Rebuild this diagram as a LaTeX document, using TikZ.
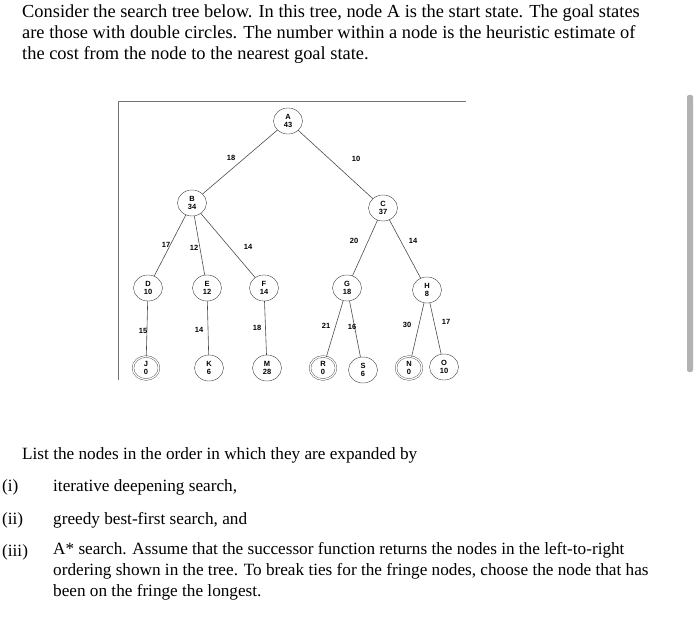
\documentclass[tikz,border=0pt]{standalone}
\usepackage{fontspec}
\usetikzlibrary{shapes.geometric}
\setmainfont{Liberation Serif}
\newfontfamily\tf{Liberation Sans}
\begin{document}
\begin{tikzpicture}[x=1pt,y=-1pt,
  st/.style={draw=black!75,ellipse,minimum width=29pt,minimum height=26pt,inner sep=0pt,align=center,font=\tf\bfseries\fontsize{7.5}{8.5}\selectfont},
  gl/.style={st,double,double distance=1.3pt,minimum width=26pt,minimum height=23pt},
  el/.style={font=\tf\bfseries\fontsize{7.5}{8}\selectfont,inner sep=0pt},
  tx/.style={anchor=west,inner sep=0pt,font=\fontsize{17.2}{21}\selectfont,align=left},
  ed/.style={draw=black!70,line width=0.6pt}]
\useasboundingbox (0,0) rectangle (700,639);
\node[tx,anchor=north west,font=\fontsize{18.4}{21}\selectfont] (p) at (22,5) {Consider the search tree below. In this tree, node A is the start state. The goal states\\are those with double circles. The number within a node is the heuristic estimate of\\the cost from the node to the nearest goal state.};
\draw[black!55,line width=0.8pt] (118,380) -- (118,101) -- (466,101);
\fill[black!30,rounded corners=2pt] (687,95) rectangle (693,372);
\node[st] (A) at (288,121) {A\\43};
\node[st] (B) at (192,203) {B\\34};
\node[st] (C) at (383,208) {C\\37};
\node[st] (D) at (148,288) {D\\10};
\node[st] (E) at (207,288) {E\\12};
\node[st] (F) at (264,288) {F\\14};
\node[st] (G) at (347,288) {G\\18};
\node[st] (H) at (427,290) {H\\8};
\node[gl] (J) at (146,368) {J\\0};
\node[st] (K) at (209,368) {K\\6};
\node[st] (M) at (267,368) {M\\28};
\node[gl] (R) at (323,368) {R\\0};
\node[st] (S) at (363,370) {S\\6};
\node[gl] (N) at (409,368) {N\\0};
\node[st] (O) at (444,367) {O\\10};
\foreach \a/\b in {A/B,A/C,B/D,B/E,B/F,C/G,C/H,D/J,E/K,F/M,G/R,G/S,H/N,H/O}
  \draw[ed] (\a) -- (\b);
\node[el] (l1) at (231,158) {18};
\node[el] (l2) at (356,159) {10};
\node[el] (l3) at (166,245) {17};
\node[el] (l4) at (194,248) {12};
\node[el] (l5) at (248,247) {14};
\node[el] (l6) at (354,241) {20};
\node[el] (l7) at (413,241) {14};
\node[el] (l8) at (143,331) {15};
\node[el] (l9) at (199,330) {14};
\node[el] (l10) at (257,328) {18};
\node[el] (l11) at (326,326) {21};
\node[el] (l12) at (352,327) {16};
\node[el] (l13) at (407,325) {30};
\node[el] (l14) at (446,322) {17};
\node[tx] (q) at (22,455) {List the nodes in the order in which they are expanded by};
\node[tx] (i1) at (2,487) {(i)};
\node[tx] (t1) at (53,487) {iterative deepening search,};
\node[tx] (i2) at (2,520) {(ii)};
\node[tx] (t2) at (53,520) {greedy best-first search, and};
\node[tx] (i3) at (2,552) {(iii)};
\node[tx,anchor=north west] (t3) at (53,542) {A* search. Assume that the successor function returns the nodes in the left-to-right\\ordering shown in the tree. To break ties for the fringe nodes, choose the node that has\\been on the fringe the longest.};
\end{tikzpicture}
\end{document}
